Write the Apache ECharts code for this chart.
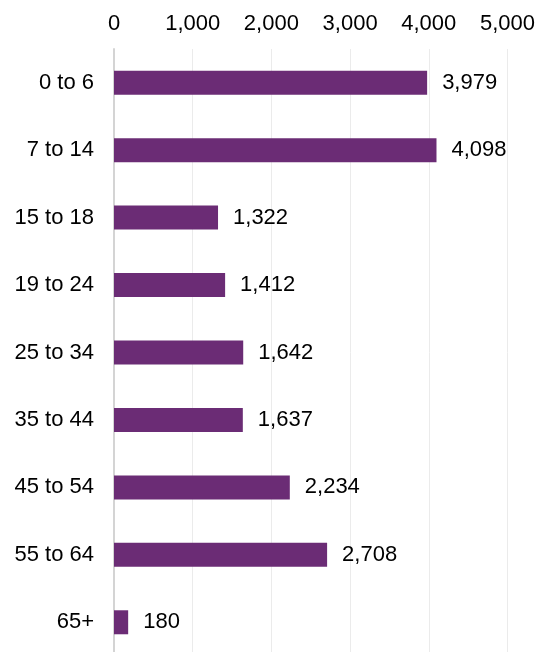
<!DOCTYPE html>
<html>
<head>
<meta charset="utf-8">
<script src="https://cdn.jsdelivr.net/npm/echarts@6/dist/echarts.min.js"></script>
<style>html,body{margin:0;padding:0;background:#fff;overflow:hidden}#c{width:538px;height:662px}</style>
</head>
<body>
<div id="c"></div>
<script>
const categories = ['0 to 6','7 to 14','15 to 18','19 to 24','25 to 34','35 to 44','45 to 54','55 to 64','65+'];
const values = [3979, 4098, 1322, 1412, 1642, 1637, 2234, 2708, 180];
const xTicks = [0, 1000, 2000, 3000, 4000, 5000];

const chart = echarts.init(document.getElementById('c'), null, {renderer: 'canvas'});
const font = 'Liberation Sans, Arial, sans-serif';
chart.setOption({
  animation: false,
  grid: {left: 114, width: 396, top: 49, height: 607, containLabel: false},
  xAxis: {
    type: 'value', position: 'top', min: xTicks[0], max: xTicks[xTicks.length-1], interval: 1000,
    axisLine: {show: false}, axisTick: {show: false},
    splitLine: {show: true, lineStyle: {color: '#ebebeb', width: 1}},
    axisLabel: {margin: 14, color: '#000', fontSize: 22, fontFamily: font,
      formatter: v => v.toLocaleString('en-US')}
  },
  yAxis: {
    type: 'category', data: categories, inverse: true,
    axisLine: {show: true, lineStyle: {color: '#d4d4d4', width: 2}},
    axisTick: {show: false},
    axisLabel: {margin: 20, color: '#000', fontSize: 22, fontFamily: font}
  },
  series: [{
    type: 'bar', data: values, barWidth: 24,
    itemStyle: {color: '#6b2c75'},
    label: {show: true, position: 'right', distance: 15, color: '#000', fontSize: 22, fontFamily: font,
      formatter: p => p.value.toLocaleString('en-US')}
  }]
});
</script>
</body>
</html>
